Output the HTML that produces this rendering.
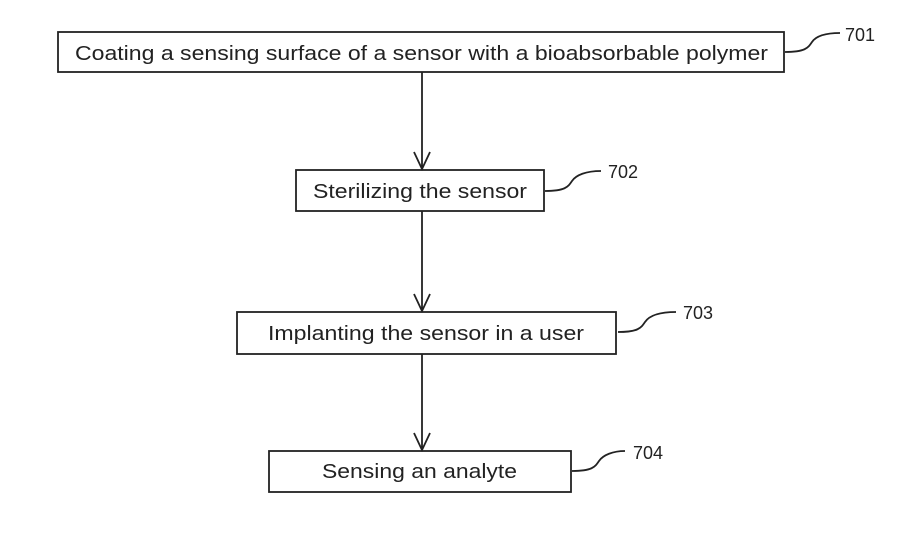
<!DOCTYPE html>
<html><head><meta charset="utf-8"><style>html,body{margin:0;padding:0;background:#fff}</style></head>
<body>
<svg width="914" height="549" viewBox="0 0 914 549" xmlns="http://www.w3.org/2000/svg" font-family="Liberation Sans, Arial, sans-serif" fill="none" stroke="#222" stroke-width="1.8">
<rect x="58" y="32" width="726" height="40"/>
<rect x="296" y="170" width="248" height="41"/>
<rect x="237" y="312" width="379" height="42"/>
<rect x="269" y="451" width="302" height="41"/>
<path d="M422 72V169M414 152L422 169L430 152"/>
<path d="M422 211V311M414 294L422 311L430 294"/>
<path d="M422 354V450M414 433L422 450L430 433"/>
<path d="M785 52C805 52 808 48 812 42C816 36 826 33 840 33"/>
<path d="M545 191C565 191 568 187 572 181C576 175 586 171 601 171"/>
<path d="M618 332C638 332 641 328 645 322C649 316 659 312 676 312"/>
<path d="M572 471C592 471 595 467 599 461C603 455 613 451 625 451"/>
<g fill="#222" stroke="none" font-size="20">
<text x="75" y="60" textLength="693" lengthAdjust="spacingAndGlyphs">Coating a sensing surface of a sensor with a bioabsorbable polymer</text>
<text x="313" y="198" textLength="214" lengthAdjust="spacingAndGlyphs">Sterilizing the sensor</text>
<text x="268" y="340" textLength="316" lengthAdjust="spacingAndGlyphs">Implanting the sensor in a user</text>
<text x="322" y="478" textLength="195" lengthAdjust="spacingAndGlyphs">Sensing an analyte</text>
<g font-size="18">
<text x="845" y="41">701</text>
<text x="608" y="178">702</text>
<text x="683" y="319">703</text>
<text x="633" y="459">704</text>
</g></g>
</svg>
</body></html>
